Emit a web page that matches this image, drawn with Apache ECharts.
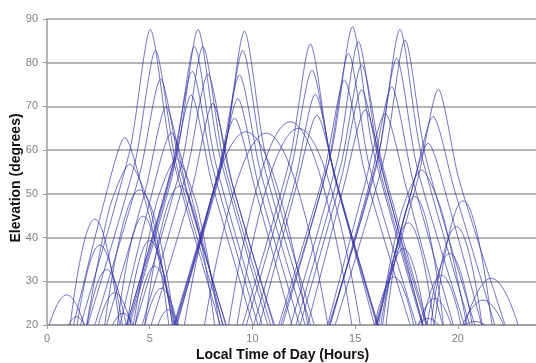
<!DOCTYPE html>
<html><head><meta charset="utf-8">
<script src="https://cdn.jsdelivr.net/npm/echarts@6/dist/echarts.min.js"></script>
<style>html,body{margin:0;padding:0;background:#fff}#c{width:536px;height:363px}</style>
</head><body><div id="c"></div>
<script>
// x tick labels (hours) and y tick labels (degrees)
const xTicks = [0, 5, 10, 15, 20];
const yTicks = [20, 30, 40, 50, 60, 70, 80, 90];

// Each pass: list of [local time (h), elevation (deg)]
const passesLowLeft = [
  [[0.11,20],[0.96,26.9],[1.81,20]],
  [[1.04,20],[1.44,21.9],[1.84,20]],
  [[1.13,20],[2.33,44.2],[3.53,20]],
  [[1.47,20],[2.57,38.3],[3.67,20]],
  [[1.95,20],[2.9,32.7],[3.85,20]],
  [[2.5,20],[3.3,27.4],[4.1,20]],
  [[3.2,20],[3.7,22.7],[4.2,20]]
];
const passesLeft = [
  [[1.29,20],[2.79,48.3],[3.79,62.9],[4.79,48.3],[6.29,20]],
  [[1.93,20],[3.03,46.5],[4.03,56.8],[5.03,46.5],[6.13,20]],
  [[2.81,20],[4.51,50.9],[6.21,20]],
  [[3.43,20],[4.68,44.9],[5.93,20]],
  [[3.9,20],[5.0,39.4],[6.1,20]],
  [[4.29,20],[5.24,33.5],[6.19,20]],
  [[4.77,20],[5.57,28.4],[6.37,20]],
  [[5.4,20],[5.9,23.5],[6.4,20]]
];
const passesFive = [
  [[1.63,20],[4.03,59.9],[5.03,87.6],[6.03,59.9],[8.43,20]],
  [[1.98,20],[4.28,57.1],[5.28,82.8],[6.28,57.1],[8.58,20]],
  [[2.33,20],[4.53,54.9],[5.53,76.3],[6.53,54.9],[8.73,20]],
  [[2.9,20],[4.8,51],[5.8,70],[6.8,51],[8.7,20]],
  [[3.55,20],[5.05,49],[6.05,64],[7.05,49],[8.55,20]],
  [[4.2,20],[5.3,47.4],[6.3,58],[7.3,47.4],[8.4,20]],
  [[4.76,20],[6.46,51.8],[8.16,20]]
];
const passesSeven = [
  [[3.95,20],[6.35,59.9],[7.35,87.6],[8.35,59.9],[10.75,20]],
  [[3.88,20],[6.18,57.6],[7.18,83.7],[8.18,57.6],[10.48,20]],
  [[3.87,20],[6.07,56],[7.07,78],[8.07,56],[10.27,20]],
  [[4.02,20],[6.02,52.6],[7.02,72.6],[8.02,52.6],[10.02,20]],
  [[4.29,20],[6.59,57.6],[7.59,83.7],[8.59,57.6],[10.89,20]],
  [[4.63,20],[6.83,55.6],[7.83,77.4],[8.83,55.6],[11.03,20]],
  [[5.07,20],[7.07,51.4],[8.07,70.7],[9.07,51.4],[11.07,20]]
];
const passesTen = [
  [[6.21,20],[8.61,59.6],[9.61,87.2],[10.61,59.6],[13.01,20]],
  [[6.23,20],[8.53,57.1],[9.53,82.8],[10.53,57.1],[12.83,20]],
  [[6.17,20],[8.37,55.5],[9.37,77.2],[10.37,55.5],[12.57,20]],
  [[6.29,20],[8.29,52.1],[9.29,71.8],[10.29,52.1],[12.29,20]],
  [[6.33,20],[8.13,51.2],[9.13,67.3],[10.13,51.2],[11.93,20]],
  [[6.69,20],[9.69,64.2],[12.69,20]],
  [[7.67,20],[10.67,63.9],[13.67,20]],
  [[8.84,20],[11.84,66.5],[14.84,20]],
  [[9.25,20],[12.25,65.0],[15.25,20]]
];
const passesThirteen = [
  [[9.52,20],[11.82,57.9],[12.82,84.3],[13.82,57.9],[16.12,20]],
  [[9.7,20],[11.9,56.1],[12.9,78.3],[13.9,56.1],[16.1,20]],
  [[10.06,20],[12.06,52.7],[13.06,72.8],[14.06,52.7],[16.06,20]],
  [[10.34,20],[12.14,51.7],[13.14,68.0],[14.14,51.7],[15.94,20]]
];
const passesFifteen = [
  [[11.47,20],[13.87,60.2],[14.87,88.2],[15.87,60.2],[18.27,20]],
  [[11.86,20],[14.16,58.2],[15.16,84.8],[16.16,58.2],[18.46,20]],
  [[11.38,20],[13.68,56.6],[14.68,82.1],[15.68,56.6],[17.98,20]],
  [[11.28,20],[13.48,54.7],[14.48,76.0],[15.48,54.7],[17.68,20]],
  [[12.12,20],[14.32,56.9],[15.32,79.5],[16.32,56.9],[18.52,20]],
  [[12.32,20],[14.32,53.4],[15.32,73.8],[16.32,53.4],[18.32,20]],
  [[12.69,20],[14.49,52.5],[15.49,69.2],[16.49,52.5],[18.29,20]]
];
const passesSeventeen = [
  [[13.78,20],[16.18,59.9],[17.18,87.6],[18.18,59.9],[20.58,20]],
  [[14.03,20],[16.43,58.5],[17.43,85.2],[18.43,58.5],[20.83,20]],
  [[13.72,20],[16.02,56.0],[17.02,81.0],[18.02,56.0],[20.32,20]],
  [[13.78,20],[15.78,53.8],[16.78,74.5],[17.78,53.8],[19.78,20]],
  [[13.66,20],[15.46,51.9],[16.46,68.4],[17.46,51.9],[19.26,20]]
];
const passesRight = [
  [[16.05,20],[18.05,53.4],[19.05,73.9],[20.05,53.4],[22.3,20]],
  [[16.0,20],[17.8,51.5],[18.8,67.7],[19.8,51.5],[21.8,20]],
  [[16.06,20],[17.56,47.5],[18.56,61.6],[19.56,47.5],[21.16,20]],
  [[16.14,20],[17.24,45.6],[18.24,55.5],[19.24,45.6],[20.44,20]],
  [[16.5,20],[17.9,49.4],[19.3,20]],
  [[16.34,20],[17.59,43.4],[18.84,20]],
  [[16.25,20],[17.35,37.5],[18.45,20]],
  [[15.95,20],[16.9,31.0],[17.85,20]]
];
const passesLowRight = [
  [[18.86,20],[20.26,48.4],[21.66,20]],
  [[18.68,20],[19.93,42.5],[21.18,20]],
  [[18.5,20],[19.6,36.4],[20.7,20]],
  [[18.25,20],[19.2,31.4],[20.15,20]],
  [[18.08,20],[18.88,26.1],[19.68,20]],
  [[18.06,20],[18.56,21.5],[19.06,20]],
  [[20.33,20],[21.63,30.7],[22.93,20]],
  [[20.23,20],[21.23,25.7],[22.23,20]],
  [[20.33,20],[20.83,20.8],[21.33,20]]
];

const allPasses = [].concat(passesLowLeft, passesLeft, passesFive, passesSeven,
  passesTen, passesThirteen, passesFifteen, passesSeventeen, passesRight, passesLowRight);

const lineColor = 'rgba(50,50,165,0.68)';
const gridColor = '#9c9c9c';
const fontFam = 'Liberation Sans, Arial, sans-serif';
const series = allPasses.map(p => ({
  type: 'line', data: p, showSymbol: false, silent: true,
  smooth: p.length > 3 ? 0.25 : 0.5,
  lineStyle: { color: lineColor, width: 1 }
}));

const chart = echarts.init(document.getElementById('c'), null, { renderer: 'canvas' });
chart.setOption({
  animation: false,
  backgroundColor: '#ffffff',
  grid: { left: 47, right: -4, top: 19, bottom: 38, containLabel: false, outerBoundsMode: 'none' },
  xAxis: {
    type: 'value', min: 0, max: 24, interval: 5,
    name: 'Local Time of Day (Hours)', nameLocation: 'middle', nameGap: 23, nameMoveOverlap: false,
    nameTextStyle: { fontFamily: fontFam, fontWeight: 'bold', fontSize: 14, color: '#111', padding: [0, 22, 0, 0] },
    axisLine: { show: true, lineStyle: { color: gridColor, width: 1.5 } },
    axisTick: { show: true, length: 4, lineStyle: { color: gridColor } },
    axisLabel: { color: '#808080', fontSize: 11, fontFamily: fontFam, margin: 8, showMaxLabel: false,
      formatter: v => xTicks.includes(v) ? String(v) : '' },
    splitLine: { show: false }
  },
  yAxis: {
    type: 'value', min: 20, max: 90, interval: 10,
    name: 'Elevation (degrees)', nameLocation: 'middle', nameGap: 24, nameRotate: 90, nameMoveOverlap: false,
    nameTextStyle: { fontFamily: fontFam, fontWeight: 'bold', fontSize: 14, color: '#111', padding: [0, 12, 0, 0] },
    axisLine: { show: true, lineStyle: { color: gridColor, width: 1.5 } },
    axisTick: { show: true, length: 4, lineStyle: { color: gridColor } },
    axisLabel: { color: '#808080', fontSize: 11, fontFamily: fontFam, margin: 9,
      formatter: v => yTicks.includes(v) ? String(v) : '' },
    splitLine: { show: true, lineStyle: { color: gridColor, width: 1.5 } }
  },
  series: series
});
</script></body></html>
